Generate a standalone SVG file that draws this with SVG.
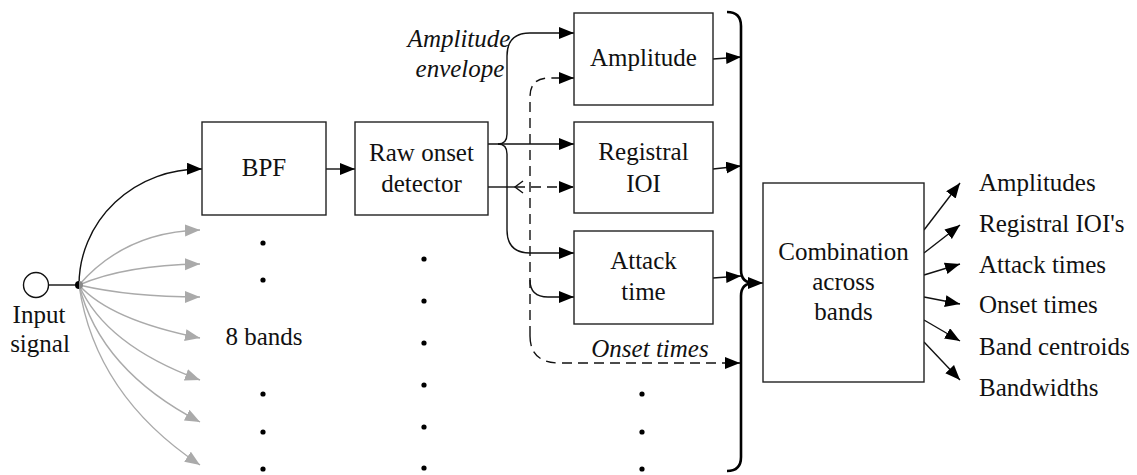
<svg xmlns="http://www.w3.org/2000/svg" width="1137" height="475" viewBox="0 0 1137 475">
<style>
text{font-family:"Liberation Serif",Tinos,"DejaVu Serif",serif;font-size:25px;fill:#111}
.t{text-anchor:middle}
.ti{font-style:italic;text-anchor:middle}
.box{fill:#fff;stroke:#222;stroke-width:1.4}
.ln{fill:none;stroke:#111;stroke-width:1.4}
.ds{fill:none;stroke:#111;stroke-width:1.4;stroke-dasharray:10 6}
.gr{fill:none;stroke:#aaa;stroke-width:1.4}
.dot{fill:#000}
</style>
<defs>
<marker id="ah" markerUnits="userSpaceOnUse" markerWidth="18" markerHeight="14" refX="15" refY="6" orient="auto">
<path d="M0,0 L15,6 L0,12 z" fill="#000"/>
</marker>
<marker id="ahg" markerUnits="userSpaceOnUse" markerWidth="18" markerHeight="14" refX="15" refY="6" orient="auto">
<path d="M0,0 L15,6 L0,12 z" fill="#aaa"/>
</marker>
</defs>

<g id="connectors">
<line class="ln" x1="48.5" y1="285" x2="79" y2="285"/>
<path class="gr" marker-end="url(#ahg)" d="M79,285 Q125,232 200,230"/>
<path class="gr" marker-end="url(#ahg)" d="M79,285 Q125,265 200,264"/>
<path class="gr" marker-end="url(#ahg)" d="M79,285 Q130,297 200,297"/>
<path class="gr" marker-end="url(#ahg)" d="M79,285 Q110,320 200,338"/>
<path class="gr" marker-end="url(#ahg)" d="M79,285 Q105,345 200,380"/>
<path class="gr" marker-end="url(#ahg)" d="M79,285 Q100,370 200,422"/>
<path class="gr" marker-end="url(#ahg)" d="M79,285 Q95,395 200,465"/>
<path class="ln" marker-end="url(#ah)" d="M79,285 A121,116 0 0 1 202,169"/>
<path d="M79,281 A4,4 0 0 0 79,289 Z" fill="#000"/>
<path d="M79,281 A4,4 0 0 1 79,289 Z" fill="#888"/>
<line class="ln" marker-end="url(#ah)" x1="326" y1="169" x2="355" y2="169"/>
<line class="ln" marker-end="url(#ah)" x1="488" y1="144" x2="574" y2="144"/>
<path class="ln" marker-end="url(#ah)" d="M498,144 Q507,144 507,134 L507,56 Q507,33 530,33 L574,33"/>
<path class="ln" marker-end="url(#ah)" d="M498,144 Q507,144 507,154 L507,230 Q507,253 530,253 L574,253"/>
<line class="ln" x1="488" y1="187" x2="515" y2="187"/>
<path class="ln" d="M523,181 L515,187 L523,193"/>
<line class="ds" marker-end="url(#ah)" x1="515" y1="187" x2="574" y2="187"/>
<path class="ds" marker-end="url(#ah)" d="M530,336 L530,97 Q530,78 549,78 L574,78"/>
<path class="ds" marker-end="url(#ah)" d="M530,336 Q530,363 560,363 L740,363"/>
<path class="ln" marker-end="url(#ah)" d="M530,280 Q530,297 548,297 L574,297"/>
<line class="ln" marker-end="url(#ah)" x1="713" y1="59" x2="741" y2="57"/>
<line class="ln" marker-end="url(#ah)" x1="713" y1="169" x2="741" y2="166"/>
<line class="ln" marker-end="url(#ah)" x1="713" y1="278" x2="741" y2="276"/>
<path fill="none" stroke="#000" stroke-width="2.6" d="M727,12 Q741,12 741,26 L741,270 Q741,283 754,283 Q741,283 741,296 L741,457 Q741,471 727,471"/>
<line class="ln" marker-end="url(#ah)" x1="750" y1="283" x2="763" y2="283"/>
<line class="ln" marker-end="url(#ah)" x1="924" y1="230" x2="960" y2="183"/>
<line class="ln" marker-end="url(#ah)" x1="924" y1="253" x2="960" y2="225"/>
<line class="ln" marker-end="url(#ah)" x1="924" y1="275" x2="960" y2="264"/>
<line class="ln" marker-end="url(#ah)" x1="924" y1="297" x2="960" y2="304"/>
<line class="ln" marker-end="url(#ah)" x1="924" y1="320" x2="960" y2="341"/>
<line class="ln" marker-end="url(#ah)" x1="924" y1="342" x2="960" y2="380"/>
</g>

<g id="input">
<circle cx="36" cy="285" r="12.5" fill="#fff" stroke="#111" stroke-width="1.4"/>
<text class="t" x="39" y="323">Input</text>
<text class="t" x="40" y="352">signal</text>
</g>

<g id="bpf">
<rect class="box" x="202" y="122" width="124" height="93"/>
<text class="t" x="264" y="176">BPF</text>
</g>

<g id="raw">
<rect class="box" x="355" y="122" width="133" height="93"/>
<text class="t" x="421.5" y="161">Raw onset</text>
<text class="t" x="421.5" y="192">detector</text>
</g>

<g id="amplitude">
<rect class="box" x="574" y="13" width="139" height="92"/>
<text class="t" x="643.5" y="66">Amplitude</text>
</g>

<g id="registral">
<rect class="box" x="574" y="122" width="139" height="91"/>
<text class="t" x="643.5" y="160">Registral</text>
<text class="t" x="643.5" y="192">IOI</text>
</g>

<g id="attack">
<rect class="box" x="574" y="231" width="139" height="93"/>
<text class="t" x="643.5" y="269">Attack</text>
<text class="t" x="643.5" y="300">time</text>
</g>

<g id="combination">
<rect class="box" x="763" y="183" width="161" height="199"/>
<text class="t" x="843.5" y="260">Combination</text>
<text class="t" x="843.5" y="290">across</text>
<text class="t" x="843.5" y="320">bands</text>
</g>

<g id="labels">
<text class="ti" x="459" y="47">Amplitude</text>
<text class="ti" x="460" y="77">envelope</text>
<text class="ti" x="650" y="357">Onset times</text>
<text class="t" x="264" y="345">8 bands</text>
<text x="979" y="191">Amplitudes</text>
<text x="979" y="232">Registral IOI's</text>
<text x="979" y="273">Attack times</text>
<text x="979" y="313">Onset times</text>
<text x="979" y="355">Band centroids</text>
<text x="979" y="396">Bandwidths</text>
</g>

<g id="dots">
<circle class="dot" cx="263" cy="243" r="2.6"/>
<circle class="dot" cx="263" cy="280" r="2.6"/>
<circle class="dot" cx="263" cy="394" r="2.6"/>
<circle class="dot" cx="263" cy="432" r="2.6"/>
<circle class="dot" cx="263" cy="469" r="2.6"/>
<circle class="dot" cx="424" cy="259" r="2.6"/>
<circle class="dot" cx="424" cy="301" r="2.6"/>
<circle class="dot" cx="424" cy="343" r="2.6"/>
<circle class="dot" cx="424" cy="385" r="2.6"/>
<circle class="dot" cx="424" cy="427" r="2.6"/>
<circle class="dot" cx="424" cy="468" r="2.6"/>
<circle class="dot" cx="642" cy="394" r="2.6"/>
<circle class="dot" cx="642" cy="432" r="2.6"/>
<circle class="dot" cx="642" cy="469" r="2.6"/>
</g>
</svg>
